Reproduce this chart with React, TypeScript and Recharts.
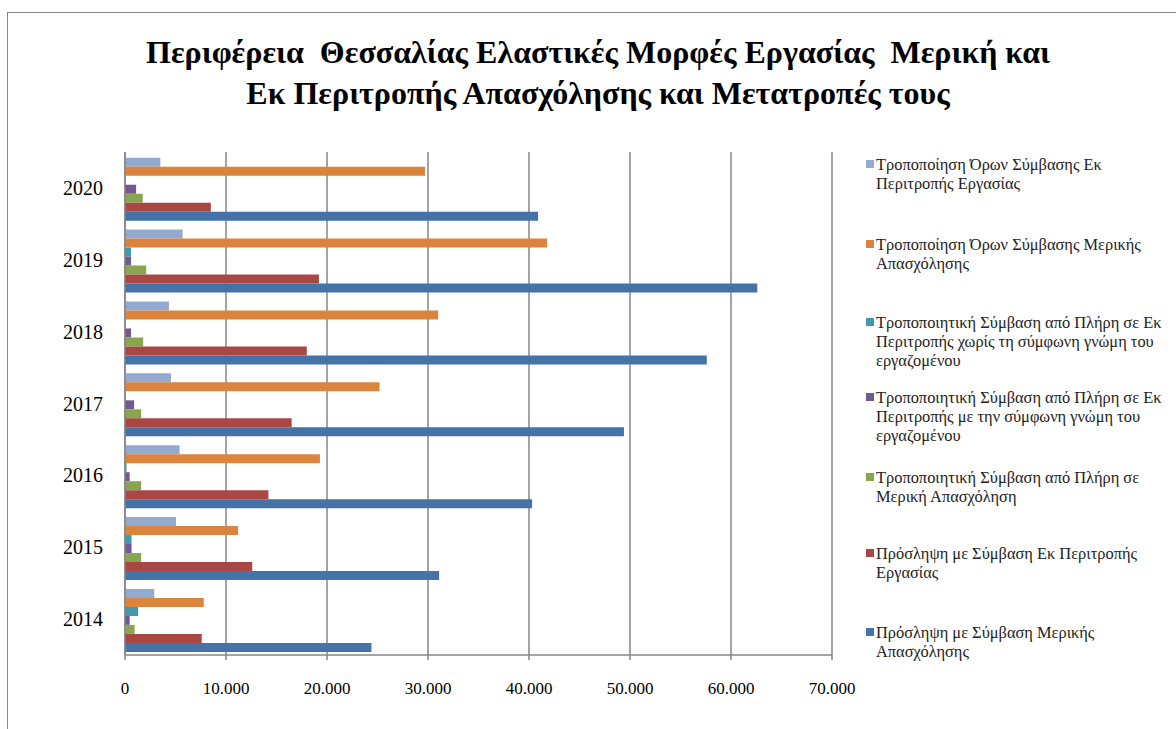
import { Bar, BarChart, CartesianGrid, Legend, XAxis, YAxis } from "recharts";

const years = ["2020", "2019", "2018", "2017", "2016", "2015", "2014"];

const seriesNames = [
  "Τροποποίηση Όρων Σύμβασης Εκ\nΠεριτροπής Εργασίας",
  "Τροποποίηση Όρων Σύμβασης Μερικής\nΑπασχόλησης",
  "Τροποποιητική Σύμβαση από Πλήρη σε Εκ\nΠεριτροπής χωρίς τη σύμφωνη γνώμη του\nεργαζομένου",
  "Τροποποιητική Σύμβαση από Πλήρη σε Εκ\nΠεριτροπής με την σύμφωνη γνώμη του\nεργαζομένου",
  "Τροποποιητική Σύμβαση από Πλήρη σε\nΜερική Απασχόληση",
  "Πρόσληψη με Σύμβαση Εκ Περιτροπής\nΕργασίας",
  "Πρόσληψη με Σύμβαση Μερικής\nΑπασχόλησης",
];

// values per year, 2020 → 2014
const termsRotation = [3500, 5700, 4350, 4550, 5400, 5050, 2900];
const termsPartTime = [29700, 41800, 31000, 25200, 19300, 11200, 7800];
const toRotationNoConsent = [0, 600, 0, 0, 150, 650, 1300];
const toRotationConsent = [1100, 600, 600, 900, 460, 650, 460];
const toPartTime = [1750, 2100, 1800, 1600, 1600, 1600, 950];
const hireRotation = [8500, 19200, 18000, 16500, 14200, 12600, 7600];
const hirePartTime = [40900, 62600, 57600, 49400, 40300, 31100, 24400];

const xTicks = [0, 10000, 20000, 30000, 40000, 50000, 60000, 70000];

const colors = ["#93A9CF", "#DB843D", "#4198AF", "#71588F", "#89A54E", "#AA4643", "#4572A7"];
const keys = ["s0", "s1", "s2", "s3", "s4", "s5", "s6"];
const allSeries = [
  termsRotation,
  termsPartTime,
  toRotationNoConsent,
  toRotationConsent,
  toPartTime,
  hireRotation,
  hirePartTime,
];

const data = years.map((year, i) => {
  const row: Record<string, string | number> = { year };
  keys.forEach((k, j) => (row[k] = allSeries[j][i]));
  return row;
});

const serif = "'Liberation Serif', 'Times New Roman', 'DejaVu Serif', serif";
const gray = "#868686";
// first-line centres of the legend entries
const legendCentres = [164, 244, 322, 397, 477, 553, 632];

const fmt = (v: number) => (v === 0 ? "0" : v.toLocaleString("de-DE"));

function LegendBox() {
  return (
    <div style={{ position: "relative", width: 310, height: 520 }}>
      {seriesNames.map((name, i) => (
        <div
          key={i}
          style={{
            position: "absolute",
            left: 0,
            top: legendCentres[i] - 9.5 - 150,
            display: "flex",
            alignItems: "flex-start",
            fontFamily: serif,
            fontSize: 16.4,
            lineHeight: "19px",
            color: "#222",
            whiteSpace: "nowrap",
          }}
        >
          <span
            style={{
              width: 8,
              height: 8,
              background: colors[i],
              marginTop: 5,
              marginRight: 2,
              flex: "none",
            }}
          />
          <span style={{ whiteSpace: "pre" }}>{name}</span>
        </div>
      ))}
    </div>
  );
}

export default function App() {
  return (
    <div
      style={{
        position: "absolute",
        left: 0,
        top: 0,
        width: 1176,
        height: 729,
        overflow: "hidden",
        background: "#fff",
      }}
    >
      <div
        style={{
          position: "absolute",
          left: 7,
          top: 12,
          width: 1180,
          height: 740,
          border: `1.5px solid ${gray}`,
        }}
      />
      <div
        style={{
          position: "absolute",
          left: 0,
          top: 32,
          width: 1196,
          textAlign: "center",
          fontFamily: serif,
          fontWeight: "bold",
          fontSize: 32,
          lineHeight: "41px",
          whiteSpace: "pre",
          color: "#000",
        }}
      >
        {"Περιφέρεια  Θεσσαλίας Ελαστικές Μορφές Εργασίας  Μερική και\nΕκ Περιτροπής Απασχόλησης και Μετατροπές τους"}
      </div>
      <div style={{ position: "absolute", left: 0, top: 0 }}>
        <BarChart
          width={1176}
          height={729}
          data={data}
          layout="vertical"
          margin={{ top: 152, right: 34, bottom: 24, left: 65 }}
          barCategoryGap="8%"
          barGap={0}
        >
          <CartesianGrid horizontal={false} stroke={gray} strokeWidth={1.5} />
          <XAxis
            type="number"
            domain={[0, 70000]}
            ticks={xTicks}
            tickFormatter={fmt}
            height={50}
            stroke={gray}
            strokeWidth={1.5}
            tickSize={5}
            tickMargin={22}
            tick={{ fill: "#000", fontSize: 17, fontFamily: serif }}
          />
          <YAxis
            type="category"
            dataKey="year"
            width={60}
            stroke={gray}
            strokeWidth={1.5}
            tickLine={false}
            tickMargin={16}
            tick={{ fill: "#000", fontSize: 20, fontFamily: serif }}
          />
          <Legend
            layout="vertical"
            align="right"
            verticalAlign="top"
            wrapperStyle={{ left: 866, top: 150, width: 310 }}
            content={() => <LegendBox />}
          />
          {keys.map((k, i) => (
            <Bar
              key={k}
              dataKey={k}
              name={seriesNames[i]}
              fill={colors[i]}
              isAnimationActive={false}
            />
          ))}
        </BarChart>
      </div>
    </div>
  );
}
